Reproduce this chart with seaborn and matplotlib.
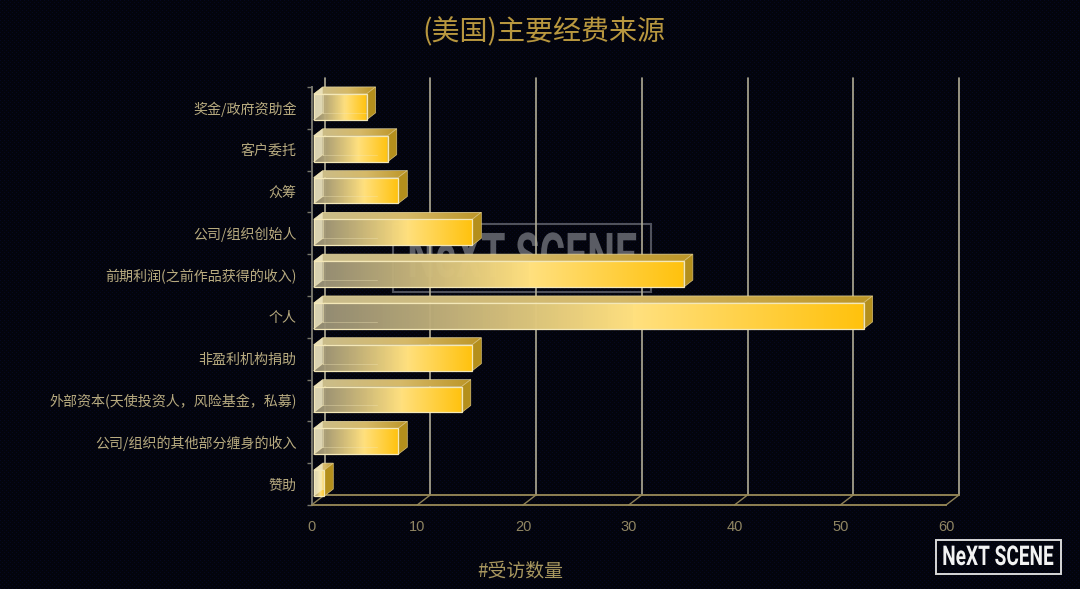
import numpy as np
import pandas as pd
import matplotlib
matplotlib.use("Agg")
import matplotlib.pyplot as plt
import seaborn as sns
from matplotlib.colors import LinearSegmentedColormap
from matplotlib.patches import Polygon, Rectangle
from matplotlib.patheffects import AbstractPathEffect
from matplotlib.transforms import Affine2D

categories = ["奖金/政府资助金", "客户委托", "众筹", "公司/组织创始人", "前期利润(之前作品获得的收入)",
              "个人", "非盈利机构捐助", "外部资本(天使投资人，风险基金，私募)",
              "公司/组织的其他部分缠身的收入", "赞助"]
counts = [5, 7, 8, 15, 35, 52, 15, 14, 8, 1]
x_ticks = [0, 10, 20, 30, 40, 50, 60]

BG = "#03040e"
LABEL = "#b8ab80"
W, H = 1080, 589
LEFT, RIGHT, TOP, BOTTOM = 311.5, 946, 87, 505


class Squeeze(AbstractPathEffect):
    """Narrow a text around a pixel x, no condensed face is installed."""

    def __init__(self, cx, sx):
        super().__init__()
        self.cx, self.sx = cx, sx

    def draw_path(self, renderer, gc, tpath, affine, rgbFace=None):
        squeeze = Affine2D().translate(-self.cx, 0).scale(self.sx, 1).translate(self.cx, 0)
        renderer.draw_path(gc, tpath, affine + squeeze, rgbFace)


sns.set_theme(style="dark")
plt.rcParams["font.family"] = ["Noto Sans CJK SC", "DejaVu Sans"]

fig = plt.figure(figsize=(W / 100, H / 100), dpi=100, facecolor=BG)

# fine dotted screen texture of the background
bg_ax = fig.add_axes([0, 0, 1, 1], zorder=-1)
yy, xx = np.mgrid[0:H, 0:W]
texture = ((xx + yy) % 4 == 0) & ((xx - yy) % 4 == 0)
bg_ax.imshow(texture, cmap=LinearSegmentedColormap.from_list("bg", ["#03040c", "#050820"]),
             interpolation="nearest", aspect="auto")
bg_ax.axis("off")

ax = fig.add_axes([LEFT / W, 1 - BOTTOM / H, (RIGHT - LEFT) / W, (BOTTOM - TOP) / H])
ax.set_facecolor("none")

df = pd.DataFrame({"source": categories, "count": counts})
sns.barplot(data=df, x="count", y="source", orient="h", width=0.62, ax=ax,
            facecolor="none", edgecolor="#f4e8b8", linewidth=0.9, zorder=6)
ax.set_xlim(0, 60)
ax.set_ylim(9.5, -0.5)
ax.set_autoscale_on(False)

ux = (RIGHT - LEFT) / 60      # pixels per value
uy = (BOTTOM - TOP) / 10      # pixels per category
wall_dx, wall_dy = 13 / ux, 10 / uy
box_dx, box_dy = 9 / ux, 7 / uy
bar_shift = 2.2 / ux

# back wall + floor
for t in x_ticks:
    ax.plot([t + wall_dx, t + wall_dx], [9.5 - wall_dy, -0.5 - 9 / uy], color="#b0ac95", lw=1.2,
            clip_on=False, zorder=2)
    ax.plot([t, t + wall_dx], [9.5, 9.5 - wall_dy], color="#8f8258", lw=1.0, clip_on=False, zorder=2)
ax.plot([wall_dx, 60 + wall_dx], [9.5 - wall_dy, 9.5 - wall_dy], color="#9a8b58", lw=1.3,
        clip_on=False, zorder=2)

# gradients for the 3d boxes
front_cmap = LinearSegmentedColormap.from_list("front", [
    (0.0, (0.60, 0.57, 0.47, 0.95)), (0.58, (1.0, 0.88, 0.50, 1.0)), (1.0, (1.0, 0.76, 0.05, 1.0))])
top_cmap = LinearSegmentedColormap.from_list("top", [
    (0.0, "#c9bd8e"), (0.55, "#d6b968"), (1.0, "#bc9526")])
ramp = np.linspace(0, 1, 256).reshape(1, -1)

for bar in ax.patches[:len(counts)]:
    bar.set_x(bar_shift)
    bar.set_y(bar.get_y() - 1 / uy)
    x0, x1 = bar.get_x(), bar.get_x() + bar.get_width()
    y0, y1 = bar.get_y(), bar.get_y() + bar.get_height()  # y0 is the upper edge

    im = ax.imshow(ramp, cmap=front_cmap, extent=(x0, x1, y1, y0), aspect="auto", zorder=3)
    im.set_clip_path(bar)

    top = Polygon([(x0, y0), (x0 + box_dx, y0 - box_dy), (x1 + box_dx, y0 - box_dy), (x1, y0)],
                  closed=True, fc="none", ec="#e9d9a0", lw=0.5, clip_on=False, zorder=4)
    ax.add_patch(top)
    im_top = ax.imshow(ramp, cmap=top_cmap, extent=(x0, x1 + box_dx, y0, y0 - box_dy), aspect="auto",
                       zorder=3.5)
    im_top.set_clip_path(top)

    ax.add_patch(Polygon([(x1, y0), (x1 + box_dx, y0 - box_dy), (x1 + box_dx, y1 - box_dy), (x1, y1)],
                         closed=True, fc="#b48f1c", ec="#d8c078", lw=0.5, clip_on=False, zorder=5))
    # see-through left end of the box
    ax.add_patch(Polygon([(x0, y0), (x0 + box_dx, y0 - box_dy), (x0 + box_dx, y1 - box_dy), (x0, y1)],
                         closed=True, fc="#f5eecb", alpha=0.72, ec="none", zorder=5))
    ax.plot([x0 + box_dx, x0 + box_dx], [y0, y1 - box_dy], color="#f4e8b8", lw=0.7, alpha=0.6, zorder=5)
    ax.plot([x0, x0 + box_dx], [y1, y1 - box_dy], color="#f4e8b8", lw=0.7, alpha=0.7, zorder=5)
    ax.plot([x0 + box_dx, min(x1, x0 + 6)], [y1 - box_dy, y1 - box_dy], color="#f4e8b8", lw=0.7,
            alpha=0.35, zorder=5)

# axes dressing
for side in ["top", "right"]:
    ax.spines[side].set_visible(False)
ax.spines["left"].set_color("#77766c")
ax.spines["left"].set_linewidth(1.4)
ax.spines["bottom"].set_color("#9a8b58")
ax.spines["bottom"].set_linewidth(1.3)
ax.set_xticks(x_ticks)
ax.set_yticks(np.arange(-0.5, 10, 1), minor=True)
ax.tick_params(axis="y", which="minor", left=True, length=3.6, width=1.0, color="#77766c")
ax.tick_params(axis="y", which="major", left=False, length=0, pad=10.8, labelsize=10.1, labelcolor=LABEL)
ax.tick_params(axis="x", bottom=False, length=0, pad=10.5, labelcolor="#8f8563", labelsize=10.5)
for lab in ax.get_xticklabels():
    lab.set_family("Liberation Sans")
ax.set_xlabel("")
ax.set_ylabel("")
ax.grid(False)

# titles are placed on the figure like the original
fig.text(544 / W, 1 - 32 / H, "(美国)主要经费来源", color="#b8973f", fontsize=20.2, ha="center", va="center")
fig.text(520.5 / W, 1 - 571 / H, "#受访数量", color="#a8975f", fontsize=13.6, ha="center", va="center")

# watermark behind the bars
ax.add_patch(Rectangle(((393 - LEFT) / ux, (224 - TOP) / uy - 0.5), 258 / ux, 68 / uy, fc="none",
                       ec="#50525c", lw=1.5, zorder=1, clip_on=False))
ax.text((522 - LEFT) / ux, (260 - TOP) / uy - 0.5, "NeXT SCENE", color="#5a5c64", fontsize=44.6,
        family="Roboto", weight="bold", ha="center", va="center", zorder=1,
        path_effects=[Squeeze(522, 0.634)])

# logo bottom right
fig.add_artist(Rectangle((936 / W, 1 - 574 / H), 125 / W, 34 / H, transform=fig.transFigure, fc="none",
                         ec="#d8d8d8", lw=1.4))
fig.text(998 / W, 1 - 557.5 / H, "NeXT SCENE", color="#f2f2f2", fontsize=19.6,
         family="Roboto", weight="bold", ha="center", va="center",
         path_effects=[Squeeze(998, 0.70)])

fig.savefig("out.png", dpi=100, facecolor=BG)
